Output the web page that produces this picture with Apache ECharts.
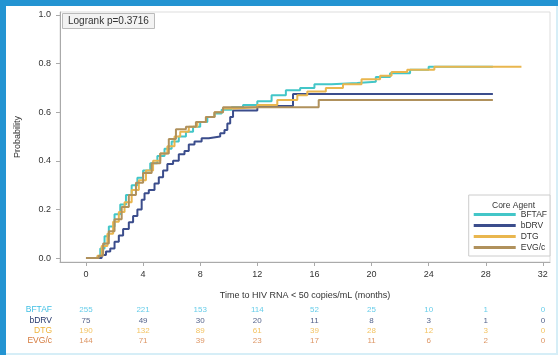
<!DOCTYPE html>
<html>
<head>
<meta charset="utf-8">
<script src="https://cdn.jsdelivr.net/npm/echarts@6.0.0/dist/echarts.min.js"></script>
<style>
  html, body { margin: 0; padding: 0; background: #fff; }
  #main { width: 558px; height: 355px; }
</style>
</head>
<body>
<div id="main"></div>
<script>
// cumulative probability curves, [months, probability]
var bftafCurve = [[0,0],[0.7,0.008],[1.0,0.04],[1.3,0.09],[1.6,0.13],[2.0,0.18],[2.4,0.22],[2.8,0.26],[3.2,0.30],[3.6,0.33],[4.0,0.36],[4.5,0.39],[5.0,0.42],[5.5,0.45],[6.0,0.48],[6.5,0.50],[7.0,0.52],[7.5,0.54],[8.0,0.56],[8.5,0.58],[9.0,0.595],[9.5,0.61],[10.2,0.62],[11.0,0.63],[12.0,0.645],[13.0,0.67],[14.0,0.69],[15.0,0.70],[16.0,0.715],[17.2,0.72],[19.0,0.725],[20.3,0.745],[21.3,0.76],[22.7,0.775],[24.0,0.787],[28.5,0.787]];
var bdrvCurve = [[0,0],[1.1,0.013],[1.4,0.027],[1.7,0.04],[2.0,0.067],[2.3,0.093],[2.6,0.12],[3.0,0.147],[3.3,0.173],[3.6,0.2],[3.9,0.24],[4.1,0.267],[4.4,0.28],[4.8,0.307],[5.1,0.333],[5.4,0.36],[5.7,0.387],[6.1,0.40],[6.5,0.427],[6.9,0.44],[7.2,0.467],[7.6,0.48],[8.1,0.493],[8.6,0.50],[9.4,0.513],[9.7,0.527],[9.9,0.553],[10.1,0.58],[10.3,0.607],[12.0,0.625],[14.5,0.675],[28.5,0.675]];
var dtgCurve = [[0,0],[0.8,0.01],[1.1,0.05],[1.5,0.10],[1.9,0.15],[2.3,0.19],[2.7,0.23],[3.2,0.28],[3.7,0.32],[4.2,0.36],[4.7,0.40],[5.2,0.43],[5.7,0.46],[6.2,0.50],[6.6,0.52],[7.2,0.54],[7.8,0.56],[8.4,0.58],[9.0,0.60],[9.6,0.615],[10.4,0.62],[12.0,0.63],[13.4,0.65],[14.8,0.67],[15.5,0.685],[16.8,0.70],[18.0,0.715],[19.3,0.735],[20.6,0.75],[21.4,0.765],[22.5,0.775],[24.4,0.787],[30.5,0.787]];
var evgcCurve = [[0,0],[0.9,0.01],[1.2,0.06],[1.6,0.11],[2.0,0.16],[2.5,0.21],[3.0,0.26],[3.5,0.31],[4.0,0.35],[4.6,0.39],[5.2,0.43],[5.8,0.49],[6.3,0.53],[7.0,0.54],[7.7,0.56],[8.4,0.58],[9.0,0.60],[9.6,0.62],[16.3,0.65],[28.5,0.65]];

var groupNames = ['BFTAF', 'bDRV', 'DTG', 'EVG/c'];
var lineColors = ['#43c6c8', '#3b4d8c', '#e9b64e', '#b0915c'];
var textColors = ['#3fbfe4', '#26386c', '#f0b43a', '#d57a3c'];

var xTicks = [0, 4, 8, 12, 16, 20, 24, 28, 32];
var yTicks = [0, 0.2, 0.4, 0.6, 0.8, 1.0];

// numbers at risk at each x tick
var bftafRisk = [255, 221, 153, 114, 52, 25, 10, 1, 0];
var bdrvRisk = [75, 49, 30, 20, 11, 8, 3, 1, 0];
var dtgRisk = [190, 132, 89, 61, 39, 28, 12, 3, 0];
var evgcRisk = [144, 71, 39, 23, 17, 11, 6, 2, 0];

var chart = echarts.init(document.getElementById('main'));
var font = 'Liberation Sans';
var curves = [bftafCurve, bdrvCurve, dtgCurve, evgcCurve];
var risks = [bftafRisk, bdrvRisk, dtgRisk, evgcRisk];

var series = [];
curves.forEach(function (c, i) {
  series.push({
    name: groupNames[i],
    type: 'line',
    step: 'end',
    symbol: 'none',
    data: c,
    lineStyle: { width: 2, color: lineColors[i] },
    itemStyle: { color: lineColors[i] },
    z: 3 + i
  });
});
risks.forEach(function (r, i) {
  series.push({
    name: 'risk' + i,
    type: 'scatter',
    xAxisIndex: 1,
    yAxisIndex: 1,
    symbolSize: 2,
    itemStyle: { color: 'rgba(0,0,0,0)' },
    silent: true,
    data: r.map(function (v, k) { return [xTicks[k], i, v]; }),
    label: {
      show: true,
      position: 'inside',
      formatter: function (p) { return String(p.value[2]); },
      color: textColors[i],
      fontSize: 8,
      fontFamily: font
    }
  });
});

var option = {
  backgroundColor: '#fff',
  animation: false,
  graphic: [
    { type: 'rect', shape: { x: 0, y: 0, width: 558, height: 6 }, style: { fill: '#2394d2' } },
    { type: 'rect', shape: { x: 0, y: 0, width: 6, height: 355 }, style: { fill: '#2394d2' } },
    { type: 'rect', shape: { x: 556, y: 6, width: 2, height: 349 }, style: { fill: '#d6eef7' } },
    { type: 'rect', shape: { x: 6, y: 353, width: 552, height: 2 }, style: { fill: '#d6eef7' } }
  ],
  title: [
    {
      text: 'Logrank p=0.3716',
      left: 62, top: 13,
      padding: [3, 6],
      borderColor: '#bbb', borderWidth: 1,
      backgroundColor: '#f3f3f3',
      textStyle: { fontSize: 10, fontWeight: 'normal', color: '#333', fontFamily: font }
    },
    {
      text: 'Core Agent',
      left: 487, top: 196,
      textStyle: { fontSize: 8.5, fontWeight: 'normal', color: '#333', fontFamily: font }
    }
  ],
  legend: {
    data: groupNames,
    orient: 'vertical',
    right: 8, top: 195,
    padding: [14, 3, 3, 5],
    borderColor: '#ccc', borderWidth: 1,
    backgroundColor: '#fff',
    icon: 'rect',
    itemWidth: 42, itemHeight: 3, itemGap: 0,
    textStyle: { fontSize: 8.5, lineHeight: 11, color: '#333', fontFamily: font }
  },
  grid: [
    { left: 60, right: 8, top: 12, bottom: 93, show: true, borderColor: '#ddd', borderWidth: 1 },
    { left: 60, right: 8, top: 305, bottom: 9 }
  ],
  xAxis: [
    {
      type: 'value', gridIndex: 0, min: -1.82, max: 32.5,
      name: 'Time to HIV RNA < 50 copies/mL (months)',
      nameLocation: 'middle', nameGap: 29,
      nameTextStyle: { fontSize: 9, color: '#333', fontFamily: font },
      splitLine: { show: false },
      axisLine: { onZero: false, lineStyle: { color: '#aaa' } },
      axisTick: { customValues: xTicks, length: 4, lineStyle: { color: '#aaa' } },
      axisLabel: { customValues: xTicks, fontSize: 9, color: '#333', margin: 8, fontFamily: font }
    },
    {
      type: 'value', gridIndex: 1, min: -1.82, max: 32.5, show: false
    }
  ],
  yAxis: [
    {
      type: 'value', gridIndex: 0, min: -0.016, max: 1.012,
      name: 'Probability',
      nameLocation: 'middle', nameGap: 38,
      nameTextStyle: { fontSize: 9, color: '#333', fontFamily: font },
      splitLine: { show: false },
      axisLine: { show: true, onZero: false, lineStyle: { color: '#aaa' } },
      axisTick: { show: true, customValues: yTicks, length: 4, lineStyle: { color: '#aaa' } },
      axisLabel: {
        customValues: yTicks, fontSize: 9, color: '#333', margin: 9, fontFamily: font,
        formatter: function (v) { return v.toFixed(1); }
      }
    },
    {
      type: 'category', gridIndex: 1, inverse: true, data: groupNames,
      axisLine: { show: false }, axisTick: { show: false }, splitLine: { show: false },
      axisLabel: {
        interval: 0, hideOverlap: false,
        fontSize: 8.5, margin: 8, fontFamily: font,
        color: function (v) { return textColors[groupNames.indexOf(v)]; }
      }
    }
  ],
  series: series
};

chart.setOption(option);
</script>
</body>
</html>
